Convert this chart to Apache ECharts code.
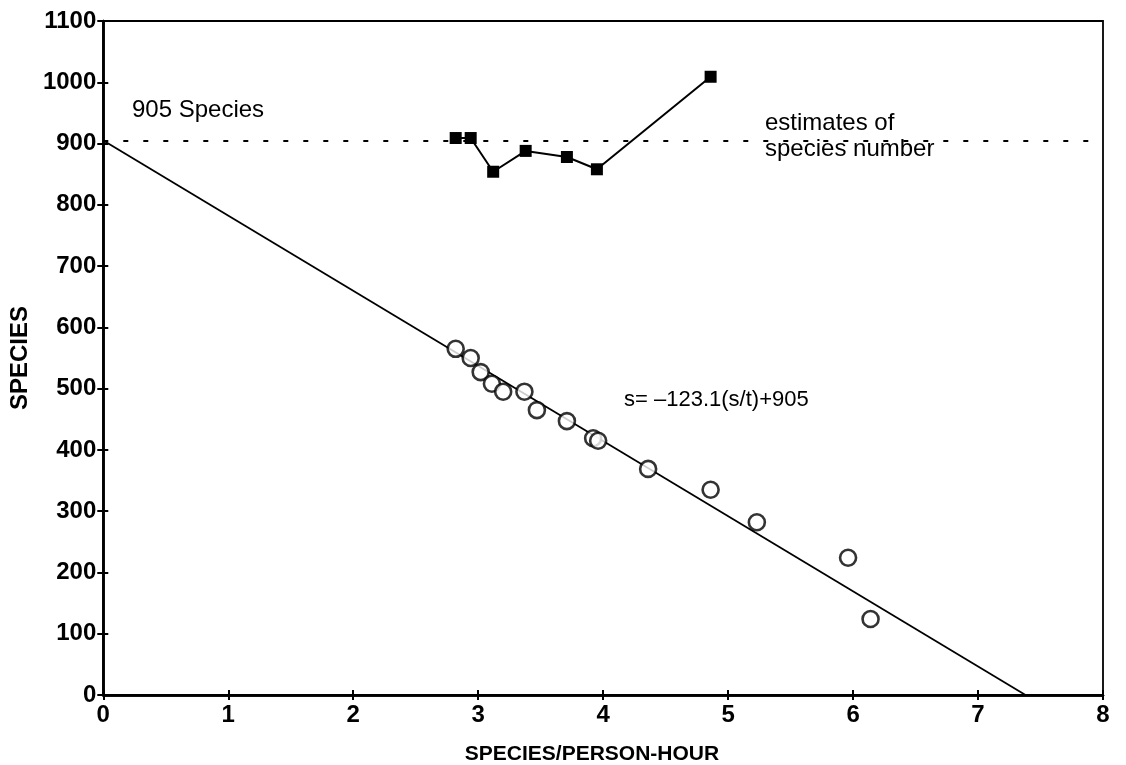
<!DOCTYPE html>
<html>
<head>
<meta charset="utf-8">
<script src="https://cdn.jsdelivr.net/npm/echarts@6/dist/echarts.min.js"></script>
<style>html,body{margin:0;padding:0;background:#fff}#c{width:1126px;height:765px}</style>
</head>
<body>
<div id="c"></div>
<script>
// Observed data: species vs species/person-hour (open circles)
const obsRate    = [2.82, 2.94, 3.02, 3.11, 3.20, 3.37, 3.47, 3.71, 3.92, 3.96, 4.36, 4.86, 5.23, 5.96, 6.14];
const obsSpecies = [565, 550, 527, 508, 495, 495, 465, 447, 419, 415, 369, 335, 282, 224, 124];
// Estimates of species number (filled squares)
const estRate    = [2.82, 2.94, 3.12, 3.38, 3.71, 3.95, 4.86];
const estSpecies = [909, 909, 854, 888, 878, 858, 1009];
// Regression line s = -123.1(s/t) + 905, end points as drawn
const fitX = [0, 7.38];
const fitY = [905, 0];
const asymptote = 905;
const xTicks = [0, 1, 2, 3, 4, 5, 6, 7, 8];
const yTicks = [0, 100, 200, 300, 400, 500, 600, 700, 800, 900, 1000, 1100];

const zip = (a, b) => a.map((v, i) => [v, b[i]]);
const font = '"Liberation Sans", Arial, Helvetica, sans-serif';

const chart = echarts.init(document.getElementById('c'));
const baseX = {
  type: 'value', min: 0, max: 8, interval: 1, position: 'bottom',
  axisLine: { show: true, onZero: false, lineStyle: { color: '#000', width: 2.5 } },
  splitLine: { show: false }
};
const baseY = {
  type: 'value', min: 0, max: 1100, interval: 100, position: 'left',
  axisLine: { show: true, onZero: false, lineStyle: { color: '#000', width: 2.5 } },
  splitLine: { show: false }
};
chart.setOption({
  animation: false,
  backgroundColor: '#fff',
  grid: { left: 102, right: 23, top: 21, bottom: 70, show: true, borderColor: '#000', borderWidth: 1.8 },
  xAxis: [
    Object.assign({}, baseX, {
      axisTick: { show: true, inside: false, length: 5, lineStyle: { color: '#000', width: 2 } },
      axisLabel: { color: '#000', fontFamily: font, fontWeight: 'bold', fontSize: 24, margin: 8,
        formatter: v => xTicks.includes(v) ? String(v) : '' }
    }),
    Object.assign({}, baseX, {
      axisTick: { show: true, inside: true, length: 5, lineStyle: { color: '#000', width: 2 } },
      axisLabel: { show: false }
    })
  ],
  yAxis: [
    Object.assign({}, baseY, {
      axisTick: { show: true, inside: false, length: 6, lineStyle: { color: '#000', width: 2 } },
      axisLabel: { color: '#000', fontFamily: font, fontWeight: 'bold', fontSize: 24, margin: 7,
        formatter: v => yTicks.includes(v) ? String(v) : '' },
      name: 'SPECIES', nameLocation: 'middle', nameGap: 68, nameRotate: 90,
      nameTextStyle: { color: '#000', fontFamily: font, fontWeight: 'bold', fontSize: 24 }
    }),
    Object.assign({}, baseY, {
      axisTick: { show: true, inside: true, length: 5, lineStyle: { color: '#000', width: 2 } },
      axisLabel: { show: false }
    })
  ],
  series: [
    {
      type: 'line', data: zip(fitX, fitY), symbol: 'none',
      lineStyle: { color: '#000', width: 1.8 },
      markLine: {
        silent: true, symbol: ['none', 'none'], label: { show: false },
        lineStyle: { color: '#000', width: 1.8, type: [5, 15] },
        data: [{ yAxis: asymptote }]
      },
      z: 2
    },
    {
      type: 'scatter', data: zip(obsRate, obsSpecies), symbol: 'circle', symbolSize: 16,
      itemStyle: { color: '#fff', borderColor: '#000', borderWidth: 2.6 }, z: 3
    },
    {
      type: 'line', data: zip(estRate, estSpecies), symbol: 'rect', symbolSize: 12,
      itemStyle: { color: '#000' }, lineStyle: { color: '#000', width: 2 }, z: 4
    }
  ],
  graphic: [
    { type: 'text', left: 132, top: 98, style: { text: '905 Species', font: '24px ' + font, fill: '#000' } },
    { type: 'text', left: 765, top: 110, style: { text: 'estimates of\nspecies number', font: '24px ' + font, lineHeight: 26, fill: '#000' } },
    { type: 'text', left: 624, top: 389, style: { text: 's= \u2013123.1(s/t)+905', font: '22px ' + font, fill: '#000' } },
    { type: 'text', x: 592, y: 754, style: { text: 'SPECIES/PERSON-HOUR', font: 'bold 21px ' + font, fill: '#000', textAlign: 'center', textVerticalAlign: 'middle' } }
  ]
});
</script>
</body>
</html>
